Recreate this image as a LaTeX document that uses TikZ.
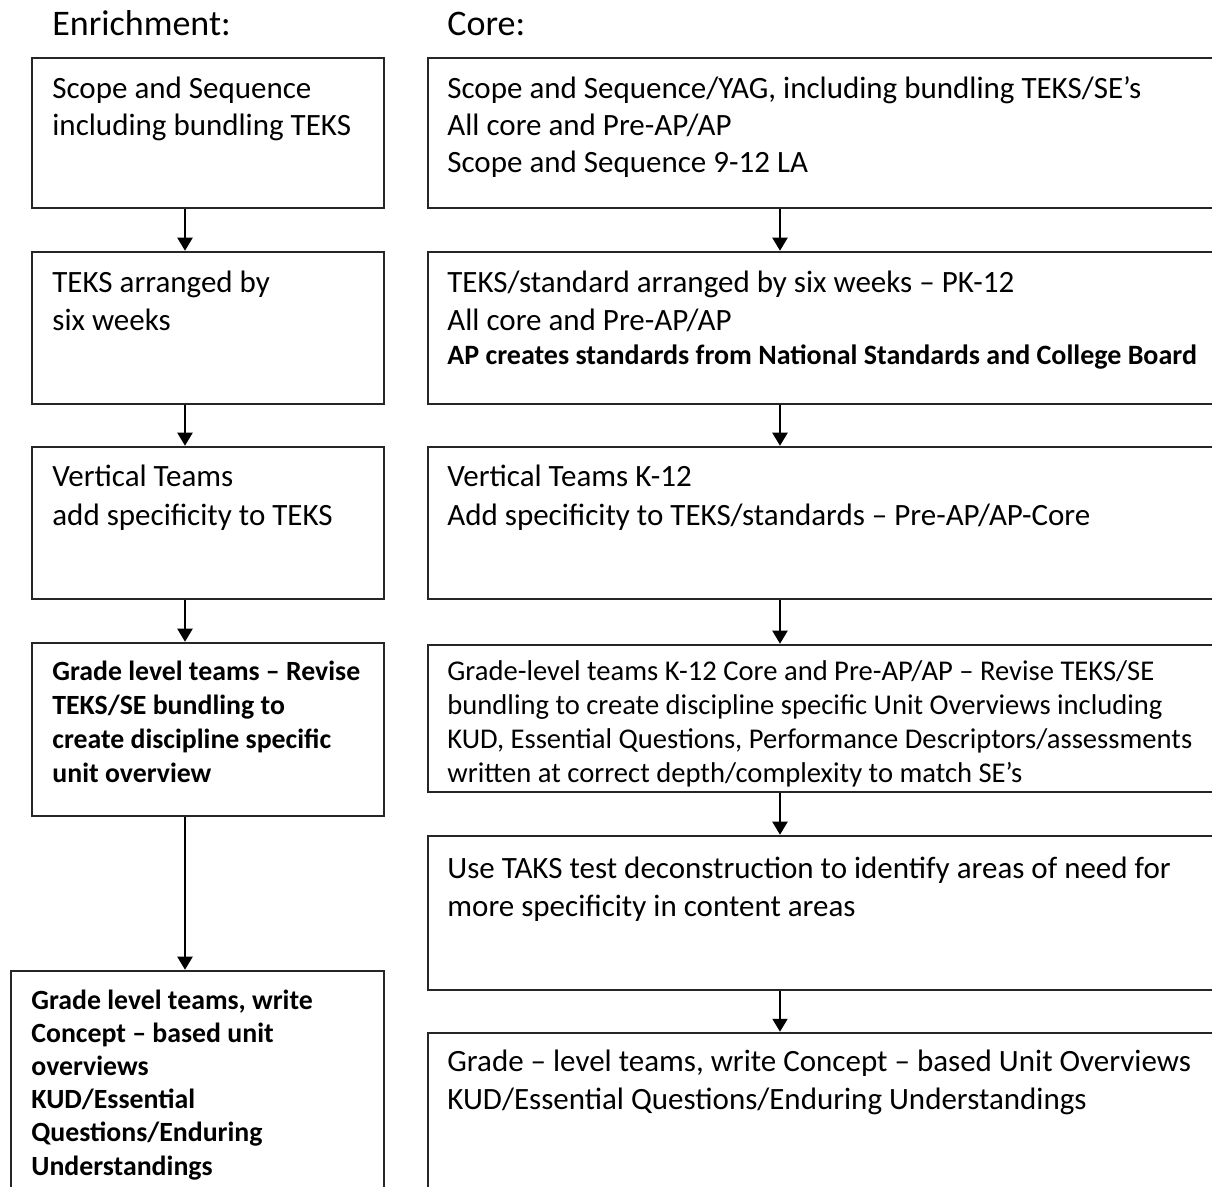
\documentclass[tikz,border=0pt]{standalone}
\usepackage{fontspec}
\setmainfont{Carlito}
\usetikzlibrary{arrows.meta,fit}
\newcommand\tbox[1]{\parbox[t]{420pt}{#1}}
\begin{document}
\begin{tikzpicture}[x=0.5pt,y=-0.5pt,
  box/.style={draw=black!85,line width=1.25pt,inner sep=0pt,rectangle},
  txt/.style={anchor=base west,inner sep=0pt},
  reg/.style={font=\fontsize{15.5}{18.8}\selectfont},
  regs/.style={font=\fontsize{14.3}{17}\selectfont},
  bld/.style={font=\bfseries\fontsize{13.9}{17}\selectfont},
  head/.style={font=\fontsize{18}{22}\selectfont},
  arr/.style={draw=black,line width=1pt,-{Triangle[width=7.5pt,length=6.5pt]}}]
\useasboundingbox (0,0) rectangle (1212,1187);
\fill[white] (0,0) rectangle (1212,1187);
\clip (0,0) rectangle (1212,1187);
\coordinate (lx) at (185,0);
\coordinate (rx) at (780,0);
% headings
\node[txt,head] (hE) at (52,36) {Enrichment:};
\node[txt,head] (hC) at (447,36) {Core:};
% left boxes
\node[box,fit={(32,58) (384,208)}] (l1) {};
\node[box,fit={(32,252) (384,404)}] (l2) {};
\node[box,fit={(32,447) (384,599)}] (l3) {};
\node[box,fit={(32,643) (384,816)}] (l4) {};
\node[box,fit={(11,971) (384,1240)}] (l5) {};
% right boxes
\node[box,fit={(428,58) (1260,208)}] (r1) {};
\node[box,fit={(428,252) (1260,404)}] (r2) {};
\node[box,fit={(428,447) (1260,599)}] (r3) {};
\node[box,fit={(428,645) (1260,792)}] (r4) {};
\node[box,fit={(428,836) (1260,990)}] (r5) {};
\node[box,fit={(428,1033) (1260,1240)}] (r6) {};
% left texts
\node[txt,reg,font=\fontsize{15.5}{18.5}\selectfont] (tl1) at (52,99) {\tbox{Scope and Sequence\\including bundling TEKS}};
\node[txt,font=\fontsize{15.5}{19}\selectfont] (tl2) at (52,293) {\tbox{TEKS arranged by\\six weeks}};
\node[txt,font=\fontsize{15.5}{19.5}\selectfont] (tl3) at (52,487) {\tbox{Vertical Teams\\add specificity to TEKS}};
\node[txt,bld] (tl4) at (52,681) {\tbox{Grade level teams -- Revise\\TEKS/SE bundling to\\create discipline specific\\unit overview}};
\node[txt,font=\bfseries\fontsize{13.9}{16.6}\selectfont] (tl5) at (31,1009) {\tbox{Grade level teams, write\\Concept -- based unit\\overviews\\KUD/Essential\\Questions/Enduring\\Understandings}};
% right texts
\node[txt,font=\fontsize{15.5}{18.5}\selectfont] (tr1) at (447,99) {\tbox{Scope and Sequence/YAG, including bundling TEKS/SE’s\\All core and Pre-AP/AP\\Scope and Sequence 9-12 LA}};
\node[txt,font=\fontsize{15.5}{19}\selectfont] (tr2) at (447,293) {\tbox{TEKS/standard arranged by six weeks -- PK-12\\All core and Pre-AP/AP}};
\node[txt,font=\bfseries\fontsize{14}{16}\selectfont] (tr2b) at (447,365) {AP creates standards from National Standards and College Board};
\node[txt,font=\fontsize{15.5}{19.5}\selectfont] (tr3) at (447,487) {\tbox{Vertical Teams K-12\\Add specificity to TEKS/standards -- Pre-AP/AP-Core}};
\node[txt,regs] (tr4) at (447,681) {\tbox{Grade-level teams K-12 Core and Pre-AP/AP -- Revise TEKS/SE\\bundling to create discipline specific Unit Overviews including\\KUD, Essential Questions, Performance Descriptors/assessments\\written at correct depth/complexity to match SE’s}};
\node[txt,font=\fontsize{15.5}{19}\selectfont] (tr5) at (447,878) {\tbox{Use TAKS test deconstruction to identify areas of need for\\more specificity in content areas}};
\node[txt,font=\fontsize{15.5}{19.5}\selectfont] (tr6) at (447,1071) {\tbox{Grade -- level teams, write Concept -- based Unit Overviews\\KUD/Essential Questions/Enduring Understandings}};
% arrows
\draw[arr] (l1.south -| lx) -- (l2.north -| lx);
\draw[arr] (l2.south -| lx) -- (l3.north -| lx);
\draw[arr] (l3.south -| lx) -- (l4.north -| lx);
\draw[arr] (l4.south -| lx) -- (l5.north -| lx);
\draw[arr] (r1.south -| rx) -- (r2.north -| rx);
\draw[arr] (r2.south -| rx) -- (r3.north -| rx);
\draw[arr] (r3.south -| rx) -- (r4.north -| rx);
\draw[arr] (r4.south -| rx) -- (r5.north -| rx);
\draw[arr] (r5.south -| rx) -- (r6.north -| rx);
\end{tikzpicture}
\end{document}
